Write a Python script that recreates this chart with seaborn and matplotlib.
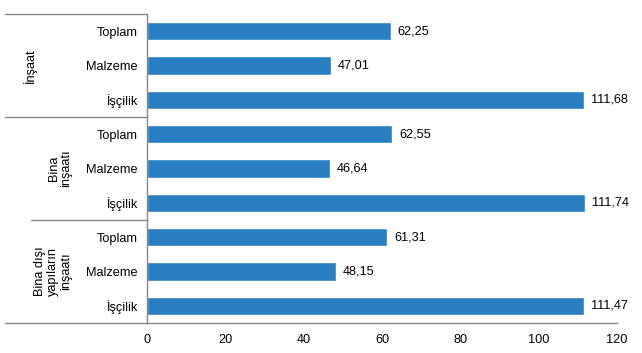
import numpy as np
import pandas as pd
import matplotlib
matplotlib.use("Agg")
import matplotlib.pyplot as plt
import matplotlib.transforms as mtransforms
import seaborn as sns

# data
groups = ["İnşaat", "Bina\ninşaatı", "Bina dışı\nyapıların\ninşaatı"]
items = ["Toplam", "Malzeme", "İşçilik"]
insaat = [62.25, 47.01, 111.68]
bina = [62.55, 46.64, 111.74]
bina_disi = [61.31, 48.15, 111.47]

rows = []
for g, vals in zip(groups, [insaat, bina, bina_disi]):
    for it, v in zip(items, vals):
        rows.append({"key": g + "|" + it, "grup": g, "kalem": it, "deger": v})
df = pd.DataFrame(rows)

sns.set_style("white")
plt.rcParams["font.family"] = ["Liberation Sans", "DejaVu Sans"]
plt.rcParams["text.color"] = "black"
plt.rcParams["xtick.color"] = "black"
plt.rcParams["ytick.color"] = "black"

fig = plt.figure(figsize=(6.42, 3.53), dpi=100)
ax_left = 147 / 642
ax = fig.add_axes([ax_left, 30 / 353, 470 / 642, 309 / 353])

bar_color = "#2a7fc2"
sns.barplot(data=df, x="deger", y="key", color=bar_color, width=0.53,
            saturation=1, ax=ax, orient="h")

ax.set_xlim(0, 120)
ax.set_ylim(8.5, -0.5)
ax.set_xticks(np.arange(0, 121, 20))
ax.set_xticklabels([str(t) for t in range(0, 121, 20)], fontsize=9.2)
ax.set_yticks(range(len(df)))
ax.set_yticklabels(df["kalem"], fontsize=9.2)
ax.set_xlabel("")
ax.set_ylabel("")

grey = "#868686"
for s in ["top", "right"]:
    ax.spines[s].set_visible(False)
for s in ["left", "bottom"]:
    ax.spines[s].set_color(grey)
    ax.spines[s].set_linewidth(1)
ax.tick_params(axis="y", length=0, pad=6.5)
ax.tick_params(axis="x", length=5, color=grey, direction="out", pad=3)

# value labels
for i, v in enumerate(df["deger"]):
    ax.text(v + 1.8, i, f"{v:.2f}".replace(".", ","), va="center",
            ha="left", fontsize=9.2)

# group separators
trans = mtransforms.blended_transform_factory(fig.transFigure, ax.transData)
x0 = 5 / 642
for y, xs in [(-0.5, x0), (2.5, x0), (5.5, 31 / 642), (8.5, x0)]:
    ax.plot([xs, ax_left], [y, y], transform=trans, color=grey, lw=1,
            clip_on=False)

# group labels
label_x = [30 / 642, 60 / 642, 53 / 642]
for gi, (g, lx) in enumerate(zip(groups, label_x)):
    ax.text(lx, gi * 3 + 1, g, transform=trans, rotation=90, ha="center",
            va="center", fontsize=9.2, linespacing=1.1)

fig.savefig("out.png", dpi=100)
